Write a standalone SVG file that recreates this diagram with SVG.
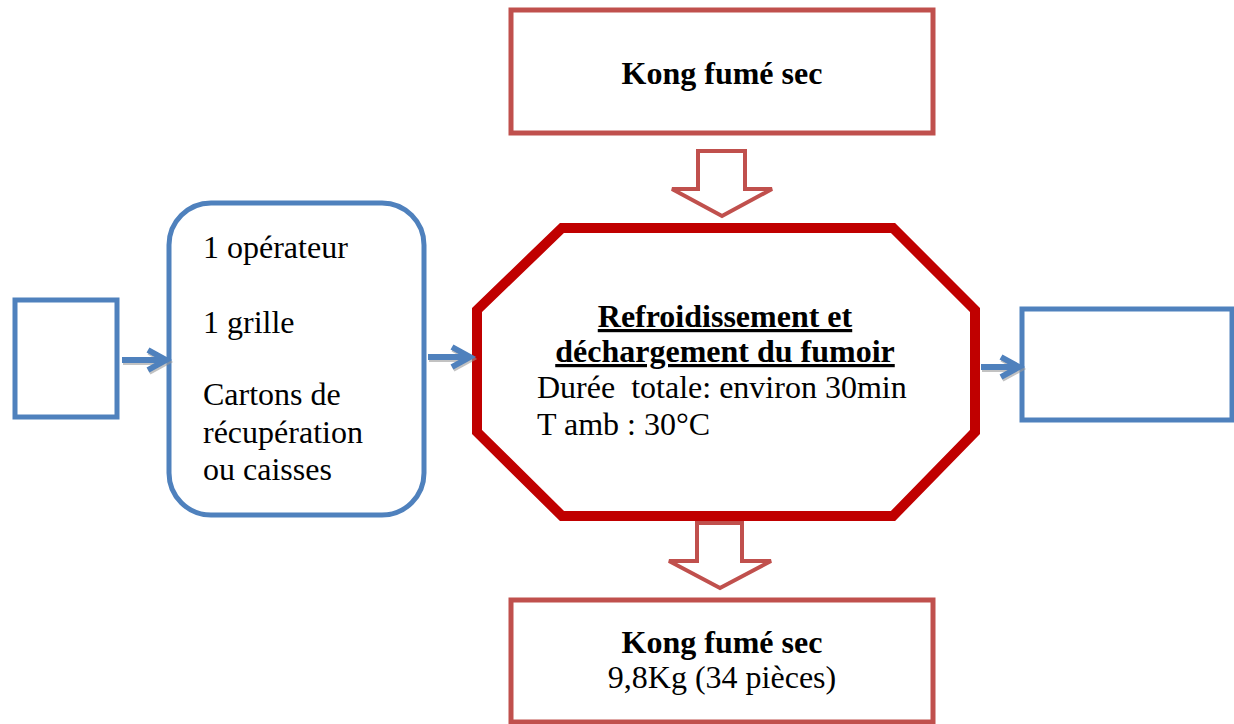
<svg xmlns="http://www.w3.org/2000/svg" width="1234" height="724" viewBox="0 0 1234 724">
<style>
  .t{font-family:"Liberation Serif","Times New Roman",serif;font-size:32px;fill:#000}
  .b{font-weight:bold}
  .red{fill:#fff;stroke:#C0504D;stroke-width:5}
  .blue{fill:#fff;stroke:#4F81BD;stroke-width:5}
  .oct{fill:#fff;stroke:#C00000;stroke-width:10;stroke-linejoin:miter}
  .bar{fill:#fff;stroke:#C0504D;stroke-width:4;stroke-linejoin:miter}
  .sh{stroke:#9a9a9a;stroke-width:6;fill:none;opacity:0.6}
  .ar{stroke:#4F81BD;stroke-width:6;fill:none;stroke-linejoin:miter}
</style>
<rect width="1234" height="724" fill="#fff"/>
<g id="top-box">
  <rect class="red" x="511" y="10" width="422" height="123"/>
  <text class="t b" x="722" y="84" text-anchor="middle">Kong fumé sec</text>
</g>
<g id="left-box">
  <rect class="blue" x="15" y="300" width="102" height="117"/>
</g>
<g id="resources">
  <rect class="blue" x="169" y="203" width="255" height="312" rx="42" ry="42"/>
  <text class="t" x="203" y="258">1 opérateur</text>
  <text class="t" x="203" y="333">1 grille</text>
  <text class="t" x="203" y="405">Cartons de</text>
  <text class="t" x="203" y="443">récupération</text>
  <text class="t" x="203" y="480">ou caisses</text>
</g>
<g id="process">
  <polygon class="oct" points="562,228 893,228 975,310 975,432 893,516 562,516 477,432 477,310"/>
  <text class="t b" x="725" y="327" text-anchor="middle" text-decoration="underline">Refroidissement et</text>
  <text class="t b" x="725" y="362" text-anchor="middle" text-decoration="underline">déchargement du fumoir</text>
  <text class="t" x="537" y="398" xml:space="preserve">Durée  totale: environ 30min</text>
  <text class="t" x="537" y="435">T amb : 30°C</text>
</g>
<g id="right-box">
  <rect class="blue" x="1022" y="309" width="210" height="111"/>
</g>
<g id="bottom-box">
  <rect class="red" x="511" y="600" width="422" height="122"/>
  <text class="t b" x="722" y="653" text-anchor="middle">Kong fumé sec</text>
  <text class="t" x="722" y="688" text-anchor="middle">9,8Kg (34 pièces)</text>
</g>
<g id="connectors">
  <polygon class="bar" points="698,151 745,151 745,189 772,189 722,216 672,189 698,189"/>
  <polygon class="bar" points="697,523 742,523 742,561 771,561 720,588 669,561 697,561"/>
  <g transform="translate(1,2)">
    <path class="sh" d="M122,360 H165 M148,350 L166,360 L148,370"/>
    <path class="sh" d="M428,357 H470 M452,347 L470,357 L452,367"/>
    <path class="sh" d="M981,367 H1019 M1001,357 L1019,367 L1001,377"/>
  </g>
  <path class="ar" d="M122,360 H165 M148,350 L166,360 L148,370"/>
  <path class="ar" d="M428,357 H470 M452,347 L470,357 L452,367"/>
  <path class="ar" d="M981,367 H1019 M1001,357 L1019,367 L1001,377"/>
</g>
</svg>
